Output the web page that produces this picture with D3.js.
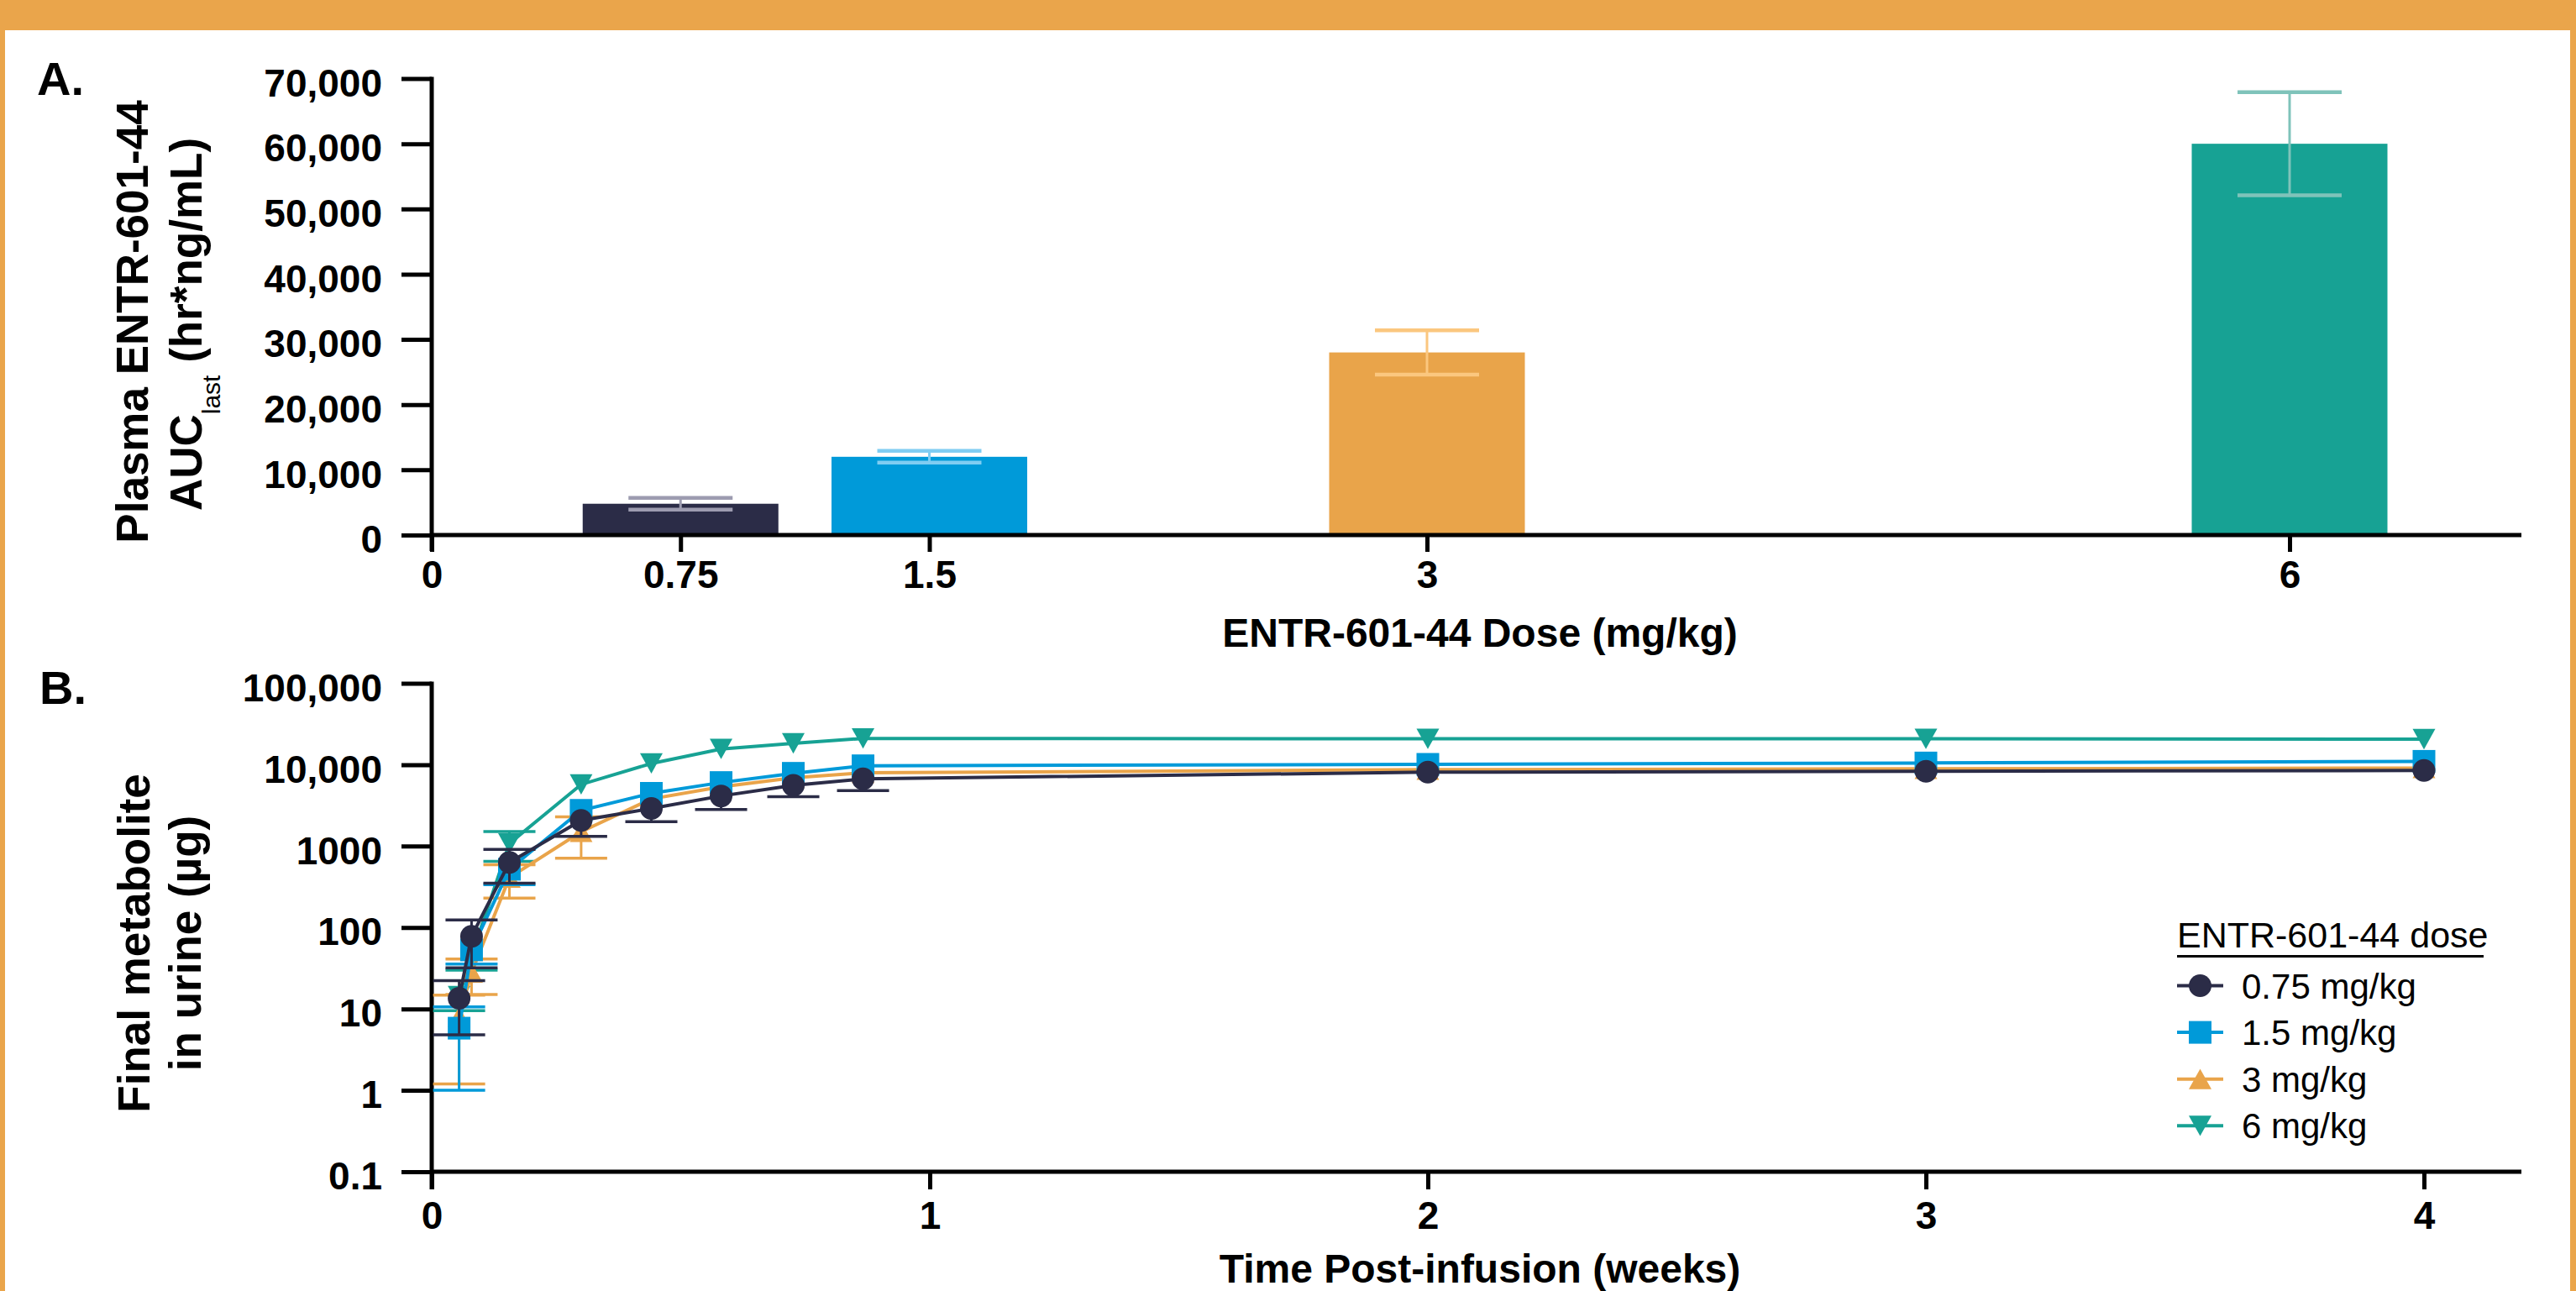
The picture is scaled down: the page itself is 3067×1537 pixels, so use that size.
<!DOCTYPE html>
<html lang="en">
<head>
<meta charset="UTF-8">
<title>ENTR-601-44 exposure</title>
<script src="https://cdn.jsdelivr.net/npm/d3@7"></script>
<style>
  body { margin: 0; background: #fff; }
  svg { display: block; font-family: "Liberation Sans", Arial, Helvetica, sans-serif; }
</style>
</head>
<body>
<svg id="chart"></svg>
<script>
  // ---- panel A: plasma AUC by dose ----
  var doses = [0.75, 1.5, 3, 6];
  var doseTicks = [0, 0.75, 1.5, 3, 6];
  var aucMean = [4800, 12000, 28000, 60000];
  var aucSD = [900, 900, 3400, 7900];
  var aucTicks = [0, 10000, 20000, 30000, 40000, 50000, 60000, 70000];

  // ---- panel B: cumulative urine metabolite over time ----
  var weeks = [0.055, 0.08, 0.156, 0.3, 0.441, 0.581, 0.726, 0.866, 2, 3, 4];
  var weekTicks = [0, 1, 2, 3, 4];
  var urineTicks = [0.1, 1, 10, 100, 1000, 10000, 100000];
  var urineTickLabels = ['0.1', '1', '10', '100', '1000', '10,000', '100,000'];
  var seriesNames = ['0.75 mg/kg', '1.5 mg/kg', '3 mg/kg', '6 mg/kg'];
  var urine075 = [13.5, 78, 630, 2070, 2900, 4130, 5590, 6700, 8100, 8300, 8500];
  var urine075SD = [8.7, 46, 280, 755, 900, 1320, 1550, 1890, 250, 250, 250];
  var urine15 = [5.8, 53, 520, 2750, 4450, 6040, 7840, 9700, 10100, 10500, 11000];
  var urine15SD = [4.8, 17.5, 185, 100, 150, 200, 250, 300, 300, 300, 300];
  var urine3 = [8, 28, 410, 1500, 3800, 5360, 6900, 7950, 8700, 8900, 9100];
  var urine3SD = [6.8, 13, 180, 790, 100, 150, 200, 250, 250, 250, 250];
  var urine6 = [14.4, 45, 1080, 5720, 10350, 15600, 18300, 21000, 20800, 20800, 20600];
  var urine6SD = [4.9, 15, 430, 200, 300, 450, 500, 600, 600, 600, 600];

  var colors = ['#2b2c47', '#009ad9', '#e9a44a', '#17a294'];
  var lightColors = ['#9d9cb0', '#80cdf2', '#fbc77f', '#7fc3ba'];
  var symbols = ['circle', 'square', 'up', 'down'];

  var W = 3067, H = 1537;
  var orange = '#eaa54b';
  var font = '"Liberation Sans", Arial, sans-serif';

  var svg = d3.select('#chart').attr('width', W).attr('height', H);

  // frame
  svg.append('rect').attr('width', W).attr('height', H).attr('fill', orange);
  svg.append('rect').attr('x', 6).attr('y', 36).attr('width', W - 13).attr('height', H - 36).attr('fill', '#fff');

  var left = 514, right = 3002;
  var axisW = 5;
  var markSize = 27;

  // ========== PANEL A ==========
  var topA = 93.5, botA = 637;
  // dose axis is stretched unevenly in the original (6 sits closer than linear)
  var xA = d3.scaleLinear()
    .domain(doseTicks)
    .range([0, 0.75, 1.5, 3, 5.6].map(function(v) { return left + v * 395; }));
  var yA = d3.scaleLinear().domain([0, 70000]).range([botA, topA]);

  var gA = svg.append('g');
  var barW = 233;

  gA.selectAll('rect.bar')
    .data(doses)
    .enter()
    .append('rect')
    .attr('class', 'bar')
    .attr('x', function(d) { return xA(d) - barW / 2; })
    .attr('y', function(d, i) { return yA(aucMean[i]); })
    .attr('width', barW)
    .attr('height', function(d, i) { return yA(0) - yA(aucMean[i]); })
    .attr('fill', function(d, i) { return colors[i]; });

  var err = gA.selectAll('g.err')
    .data(doses)
    .enter()
    .append('g')
    .attr('stroke', function(d, i) { return lightColors[i]; });
  err.append('line')
    .attr('x1', function(d) { return xA(d); })
    .attr('x2', function(d) { return xA(d); })
    .attr('y1', function(d, i) { return yA(aucMean[i] + aucSD[i]); })
    .attr('y2', function(d, i) { return yA(aucMean[i] - aucSD[i]); })
    .attr('stroke-width', 3);
  [1, -1].forEach(function(sign) {
    err.append('line')
      .attr('x1', function(d) { return xA(d) - 62; })
      .attr('x2', function(d) { return xA(d) + 62; })
      .attr('y1', function(d, i) { return yA(aucMean[i] + sign * aucSD[i]); })
      .attr('y2', function(d, i) { return yA(aucMean[i] + sign * aucSD[i]); })
      .attr('stroke-width', 4.5);
  });

  // axes A
  var yAxisA = gA.append('g')
    .attr('transform', 'translate(' + left + ',0)')
    .call(d3.axisLeft(yA).tickValues(aucTicks).tickFormat(d3.format(',')).tickSize(36).tickPadding(23));
  var xAxisA = gA.append('g')
    .attr('transform', 'translate(0,' + botA + ')')
    .call(d3.axisBottom(xA).tickValues(doseTicks).tickFormat(function(d) { return String(d); }).tickSize(20));

  gA.append('line')
    .attr('x1', left).attr('x2', left)
    .attr('y1', topA - 2).attr('y2', botA + 19)
    .attr('stroke', '#000').attr('stroke-width', axisW);
  gA.append('line')
    .attr('x1', left).attr('x2', right)
    .attr('y1', botA).attr('y2', botA)
    .attr('stroke', '#000').attr('stroke-width', axisW);

  // ========== PANEL B ==========
  var topB = 813.5, botB = 1395;
  var xB = d3.scaleLinear().domain([0, 4]).range([left, 2886]);
  var yB = d3.scaleLog().domain([0.1, 100000]).range([botB, topB]);

  var gB = svg.append('g');

  var yAxisB = gB.append('g')
    .attr('transform', 'translate(' + left + ',0)')
    .call(d3.axisLeft(yB).tickValues(urineTicks)
      .tickFormat(function(d, i) { return urineTickLabels[i]; })
      .tickSize(36).tickPadding(23));
  var xAxisB = gB.append('g')
    .attr('transform', 'translate(0,' + botB + ')')
    .call(d3.axisBottom(xB).tickValues(weekTicks).tickFormat(d3.format('d')).tickSize(21));

  [yAxisA, xAxisA, yAxisB, xAxisB].forEach(function(ax) {
    ax.select('.domain').remove();
    ax.selectAll('.tick line').attr('stroke', '#000').attr('stroke-width', axisW);
    ax.selectAll('.tick text')
      .attr('fill', '#000')
      .style('font-family', font)
      .style('font-weight', 'bold')
      .style('font-size', '46px');
  });
  [yAxisA, yAxisB].forEach(function(ax) {
    ax.selectAll('.tick text').attr('dy', '0.45em');
  });
  xAxisA.selectAll('.tick text').attr('y', 63).attr('dy', 0);
  xAxisB.selectAll('.tick text').attr('y', 68).attr('dy', 0);

  gB.append('line')
    .attr('x1', left).attr('x2', left)
    .attr('y1', topB - 2).attr('y2', botB + 21)
    .attr('stroke', '#000').attr('stroke-width', axisW);
  gB.append('line')
    .attr('x1', left).attr('x2', right)
    .attr('y1', botB).attr('y2', botB)
    .attr('stroke', '#000').attr('stroke-width', axisW);

  // marker shapes
  function markerPath(kind, s) {
    var h = s / 2;
    if (kind === 'circle') return d3.symbol().type(d3.symbolCircle).size(Math.PI * h * h)();
    if (kind === 'square') return 'M' + (-h) + ',' + (-h) + 'H' + h + 'V' + h + 'H' + (-h) + 'Z';
    var th = s * 0.9;
    if (kind === 'up') return 'M0,' + (-th / 2) + 'L' + h + ',' + (th / 2) + 'L' + (-h) + ',' + (th / 2) + 'Z';
    return 'M0,' + (th / 2) + 'L' + h + ',' + (-th / 2) + 'L' + (-h) + ',' + (-th / 2) + 'Z';
  }

  var series = [
    { mean: urine075, sd: urine075SD },
    { mean: urine15, sd: urine15SD },
    { mean: urine3, sd: urine3SD },
    { mean: urine6, sd: urine6SD }
  ];

  var line = d3.line()
    .x(function(d) { return xB(d[0]); })
    .y(function(d) { return yB(d[1]); });

  // error bar halves shorter than the symbol are hidden (as Prism does)
  var bars = [];
  series.forEach(function(s, si) {
    weeks.forEach(function(t, j) {
      var yc = yB(s.mean[j]);
      var yHi = yB(s.mean[j] + s.sd[j]);
      var yLo = yB(Math.max(0.1, s.mean[j] - s.sd[j]));
      if (yc - yHi > markSize / 2) bars.push({ si: si, t: t, y0: yc, y1: yHi });
      if (yLo - yc > markSize / 2) bars.push({ si: si, t: t, y0: yc, y1: yLo });
    });
  });

  // draw highest dose first so the 0.75 mg/kg markers sit on top
  [3, 2, 1, 0].forEach(function(si) {
    var s = series[si];
    var pts = weeks.map(function(t, j) { return [t, s.mean[j]]; });
    var g = gB.append('g');
    var eb = g.selectAll('g.eb')
      .data(bars.filter(function(b) { return b.si === si; }))
      .enter().append('g')
      .attr('stroke', colors[si]);
    eb.append('line')
      .attr('x1', function(d) { return xB(d.t); })
      .attr('x2', function(d) { return xB(d.t); })
      .attr('y1', function(d) { return d.y0; })
      .attr('y2', function(d) { return d.y1; })
      .attr('stroke-width', 3);
    eb.append('line')
      .attr('x1', function(d) { return xB(d.t) - 31; })
      .attr('x2', function(d) { return xB(d.t) + 31; })
      .attr('y1', function(d) { return d.y1; })
      .attr('y2', function(d) { return d.y1; })
      .attr('stroke-width', 3.5);
    g.append('path')
      .datum(pts)
      .attr('d', line)
      .attr('fill', 'none')
      .attr('stroke', colors[si])
      .attr('stroke-width', 4);
    g.selectAll('path.mk').data(pts).enter().append('path')
      .attr('class', 'mk')
      .attr('transform', function(d) { return 'translate(' + xB(d[0]) + ',' + yB(d[1]) + ')'; })
      .attr('d', markerPath(symbols[si], markSize))
      .attr('fill', colors[si]);
  });

  // legend
  var lg = gB.append('g').attr('transform', 'translate(2592,0)');
  lg.append('text')
    .attr('x', 0).attr('y', 1128)
    .style('font-size', '43px')
    .text('ENTR-601-44 dose');
  lg.append('line')
    .attr('x1', 0).attr('x2', 365)
    .attr('y1', 1138.5).attr('y2', 1138.5)
    .attr('stroke', '#000').attr('stroke-width', 3);
  var items = lg.selectAll('g.item').data(seriesNames).enter().append('g')
    .attr('transform', function(d, i) { return 'translate(0,' + (1173.5 + i * 55.6) + ')'; });
  items.append('line')
    .attr('x1', 0).attr('x2', 55)
    .attr('stroke', function(d, i) { return colors[i]; })
    .attr('stroke-width', 4);
  items.append('path')
    .attr('transform', 'translate(27.5,0)')
    .attr('d', function(d, i) { return markerPath(symbols[i], markSize); })
    .attr('fill', function(d, i) { return colors[i]; });
  items.append('text')
    .attr('x', 77).attr('y', 15)
    .style('font-size', '42px')
    .text(function(d) { return d; });

  // titles
  svg.append('text').attr('x', 44).attr('y', 113)
    .style('font-size', '56px').style('font-weight', 'bold').text('A.');
  svg.append('text').attr('x', 47).attr('y', 838)
    .style('font-size', '56px').style('font-weight', 'bold').text('B.');

  function vTitle(x, y, parts) {
    var t = svg.append('text')
      .attr('transform', 'translate(' + x + ',' + y + ') rotate(-90)')
      .attr('text-anchor', 'middle')
      .style('font-size', '53px').style('font-weight', 'bold');
    parts(t);
    return t;
  }
  vTitle(176, 383, function(t) { t.text('Plasma ENTR-601-44'); });
  vTitle(240, 386, function(t) {
    t.append('tspan').text('AUC');
    t.append('tspan').attr('dy', 22).style('font-size', '30px').style('font-weight', 'normal').text('last');
    t.append('tspan').attr('dy', -22).text(' (hr*ng/mL)');
  });
  vTitle(177.5, 1123, function(t) { t.text('Final metabolite'); });
  vTitle(239, 1123, function(t) { t.text('in urine (µg)'); });

  svg.append('text').attr('x', 1762).attr('y', 770)
    .attr('text-anchor', 'middle')
    .style('font-size', '48px').style('font-weight', 'bold')
    .text('ENTR-601-44 Dose (mg/kg)');
  svg.append('text').attr('x', 1762).attr('y', 1527)
    .attr('text-anchor', 'middle')
    .style('font-size', '48px').style('font-weight', 'bold')
    .text('Time Post-infusion (weeks)');
</script>
</body>
</html>
